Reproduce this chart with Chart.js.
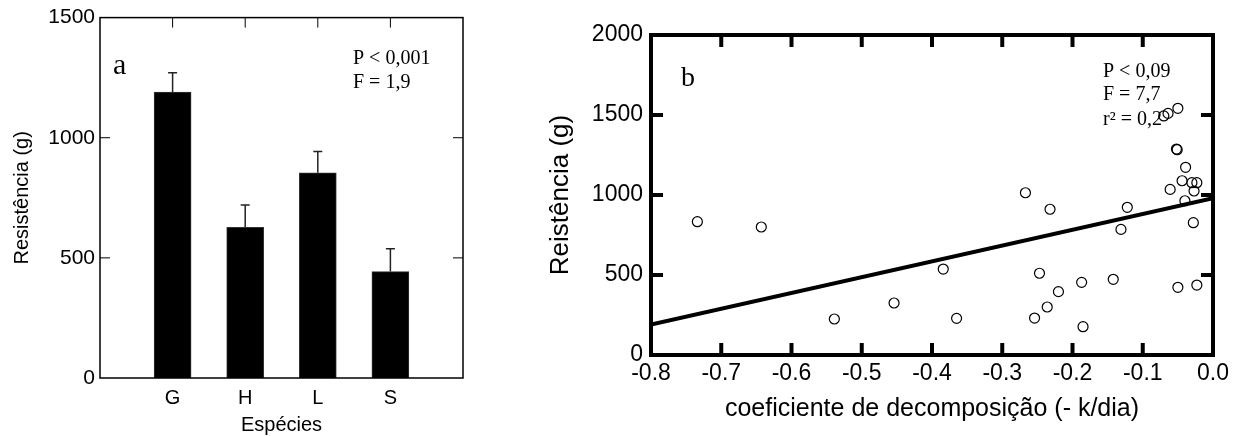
<!DOCTYPE html>
<html>
<head>
<meta charset="utf-8">
<script src="https://cdn.jsdelivr.net/npm/chart.js@4"></script>
<style>
  body { margin: 0; background: #fff; width: 1240px; height: 436px; overflow: hidden; position: relative; }
  #chartA { position: absolute; left: 0; top: 0; }
  #chartB { position: absolute; left: 540px; top: 0; }
</style>
</head>
<body>
<canvas id="chartA" width="500" height="436"></canvas>
<canvas id="chartB" width="700" height="436"></canvas>
<script>
// painel a - resistencia por especie
const especies = ['G', 'H', 'L', 'S'];
const resistencia = [1190, 627, 854, 443];
const erroSup = [1270, 720, 943, 538];

// painel b - resistencia x coeficiente de decomposicao
const coefK = [-0.734, -0.643, -0.539, -0.454, -0.384, -0.365, -0.267, -0.232, -0.247, -0.254,
  -0.236, -0.220, -0.187, -0.185, -0.142, -0.131, -0.122, -0.061, -0.070, -0.064,
  -0.050, -0.052, -0.051, -0.039, -0.044, -0.040, -0.030, -0.023, -0.027, -0.028,
  -0.050, -0.023];
const reist = [833, 800, 225, 325, 537, 229, 1014, 911, 511, 231,
  300, 396, 454, 177, 473, 785, 923, 1035, 1494, 1510,
  1542, 1287, 1283, 1173, 1089, 964, 1077, 1077, 1025, 827,
  423, 437];
const retaK = [-0.8, 0.0];
const retaR = [190, 980];

Chart.defaults.font.family = '"Liberation Sans", Arial, sans-serif';
Chart.defaults.color = '#000';

// moldura com marcas para dentro
const frame = {
  id: 'frame',
  afterDatasetsDraw(chart, args, o) {
    const { ctx, chartArea: a, scales } = chart;
    const xs = scales.x, ys = scales.y;
    ctx.save();
    ctx.strokeStyle = '#000';
    ctx.lineWidth = o.tickWidth;
    xs.ticks.forEach(t => {
      const px = xs.getPixelForValue(t.value);
      if (px <= a.left + 2 || px >= a.right - 2) return;
      ctx.beginPath();
      if (o.top) { ctx.moveTo(px, a.top); ctx.lineTo(px, a.top + o.tickLen); }
      if (o.bottom) { ctx.moveTo(px, a.bottom); ctx.lineTo(px, a.bottom - o.tickLen); }
      ctx.stroke();
    });
    ys.ticks.forEach(t => {
      const py = ys.getPixelForValue(t.value);
      if (py <= a.top + 2 || py >= a.bottom - 2) return;
      ctx.beginPath();
      ctx.moveTo(a.left, py); ctx.lineTo(a.left + o.tickLen, py);
      ctx.moveTo(a.right, py); ctx.lineTo(a.right - o.tickLen, py);
      ctx.stroke();
    });
    ctx.lineWidth = o.lineWidth;
    ctx.strokeRect(a.left, a.top, a.right - a.left, a.bottom - a.top);
    ctx.restore();
  }
};

// textos soltos no grafico
const notes = {
  id: 'notes',
  afterDraw(chart, args, o) {
    const { ctx, chartArea: a } = chart;
    ctx.save();
    ctx.fillStyle = '#000';
    ctx.textBaseline = 'alphabetic';
    o.items.forEach(n => {
      ctx.font = n.font;
      ctx.fillText(n.text, a.left + n.dx, a.top + n.dy);
    });
    ctx.restore();
  }
};

// barras de erro (so para cima)
const errorBars = {
  id: 'errorBars',
  afterDatasetsDraw(chart) {
    const { ctx, scales } = chart;
    ctx.save();
    ctx.strokeStyle = '#222';
    ctx.lineWidth = 1.5;
    especies.forEach((e, i) => {
      const x = scales.x.getPixelForValue(i + 1);
      const y1 = scales.y.getPixelForValue(resistencia[i]);
      const y2 = scales.y.getPixelForValue(erroSup[i]);
      ctx.beginPath();
      ctx.moveTo(x, y1); ctx.lineTo(x, y2);
      ctx.moveTo(x - 4.5, y2); ctx.lineTo(x + 4.5, y2);
      ctx.stroke();
    });
    ctx.restore();
  }
};

new Chart(document.getElementById('chartA'), {
  type: 'bar',
  data: {
    datasets: [{
      data: especies.map((e, i) => ({ x: i + 1, y: resistencia[i] })),
      backgroundColor: '#000',
      borderColor: '#333',
      borderWidth: 1,
      barThickness: 37
    }]
  },
  options: {
    responsive: false,
    animation: false,
    layout: { padding: { top: 15, right: 37, left: 0, bottom: 0 } },
    plugins: {
      legend: { display: false },
      tooltip: { enabled: false },
      frame: { tickLen: 10, tickWidth: 1, lineWidth: 1.5, top: true, bottom: false },
      notes: {
        items: [
          { text: 'a', dx: 13, dy: 56, font: '30px "Liberation Serif", "Times New Roman", serif' },
          { text: 'P < 0,001', dx: 253, dy: 46, font: '20px "Liberation Serif", "Times New Roman", serif' },
          { text: 'F = 1,9', dx: 253, dy: 70, font: '20px "Liberation Serif", "Times New Roman", serif' }
        ]
      }
    },
    scales: {
      x: {
        type: 'linear',
        min: 0,
        max: 5,
        offset: false,
        grid: { display: false, drawTicks: false },
        border: { display: false },
        afterBuildTicks: s => { s.ticks = especies.map((e, i) => ({ value: i + 1 })); },
        afterFit: s => { s.height = 58; },
        ticks: { font: { size: 20 }, padding: 8, callback: v => especies[v - 1] || '' },
        title: { display: true, text: 'Espécies', font: { size: 20 }, padding: { top: 0, bottom: -1 } }
      },
      y: {
        min: 0,
        max: 1500,
        grid: { display: false, drawTicks: false },
        border: { display: false },
        afterFit: s => { s.width = 100; },
        ticks: { stepSize: 500, font: { size: 21 }, padding: 5, callback: v => String(v) },
        title: { display: true, text: 'Resistência (g)', font: { size: 20 }, padding: { top: 10, bottom: 0 } }
      }
    }
  },
  plugins: [errorBars, frame, notes]
});

new Chart(document.getElementById('chartB'), {
  type: 'scatter',
  data: {
    datasets: [
      {
        data: coefK.map((k, i) => ({ x: k, y: reist[i] })),
        pointRadius: 5,
        pointBorderWidth: 1.2,
        pointBorderColor: '#000',
        pointBackgroundColor: 'rgba(255,255,255,0)'
      },
      {
        type: 'line',
        data: retaK.map((k, i) => ({ x: k, y: retaR[i] })),
        borderColor: '#000',
        borderWidth: 4,
        pointRadius: 0,
        fill: false
      }
    ]
  },
  options: {
    responsive: false,
    animation: false,
    layout: { padding: { top: 35, right: 27, left: 0, bottom: 0 } },
    plugins: {
      legend: { display: false },
      tooltip: { enabled: false },
      frame: { tickLen: 12, tickWidth: 4, lineWidth: 4, top: true, bottom: true },
      notes: {
        items: [
          { text: 'b', dx: 30, dy: 51, font: '28px "Liberation Serif", "Times New Roman", serif' },
          { text: 'P < 0,09', dx: 452, dy: 42, font: '20px "Liberation Serif", "Times New Roman", serif' },
          { text: 'F = 7,7', dx: 452, dy: 65, font: '20px "Liberation Serif", "Times New Roman", serif' },
          { text: 'r² = 0,2', dx: 452, dy: 90, font: '20px "Liberation Serif", "Times New Roman", serif' }
        ]
      }
    },
    scales: {
      x: {
        type: 'linear',
        min: -0.8,
        max: 0,
        grid: { display: false, drawTicks: false },
        border: { display: false },
        afterFit: s => { s.height = 81; },
        ticks: {
          stepSize: 0.1,
          font: { size: 23 },
          padding: 5,
          callback: v => Math.abs(v) < 1e-9 ? '0.0' : v.toFixed(1)
        },
        title: { display: true, text: 'coeficiente de decomposição (- k/dia)', font: { size: 25 }, padding: { top: 0, bottom: 12 } }
      },
      y: {
        min: 0,
        max: 2000,
        grid: { display: false, drawTicks: false },
        border: { display: false },
        afterFit: s => { s.width = 111; },
        ticks: { stepSize: 500, font: { size: 23 }, padding: 8, callback: v => String(v) },
        title: { display: true, text: 'Reistência (g)', font: { size: 26 }, padding: { top: 5, bottom: 0 } }
      }
    }
  },
  plugins: [frame, notes]
});
</script>
</body>
</html>
